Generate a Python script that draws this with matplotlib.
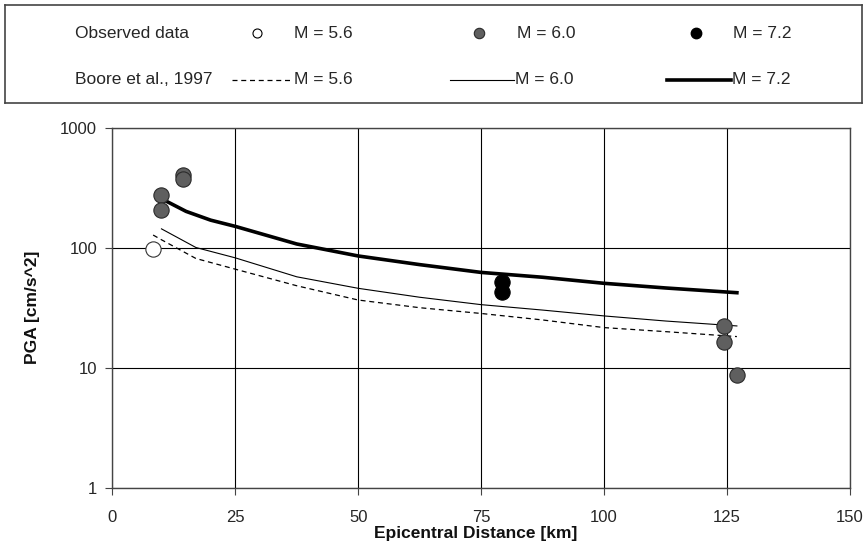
import matplotlib
matplotlib.use("Agg")
import matplotlib.pyplot as plt

plt.rcParams['font.family'] = ['Liberation Sans', 'DejaVu Sans']

# Boore et al. (1997) attenuation curves, PGA [cm/s^2] vs epicentral distance [km]
boore_56_dist = [8.3, 10, 17, 25, 37.5, 50, 62.5, 75, 87.5, 100, 112.5, 127]
boore_56_pga = [127, 116, 81, 66, 48, 36.5, 31.5, 28.2, 24.9, 21.5, 19.9, 18.1]

boore_60_dist = [10, 17, 25, 37.5, 50, 62.5, 75, 87.5, 100, 112.5, 127]
boore_60_pga = [143, 100, 82, 57, 45.7, 38.5, 33.4, 30.1, 26.9, 24.4, 22.2]

boore_72_dist = [10, 15, 20, 25, 37.5, 50, 62.5, 75, 87.5, 100, 112.5, 127]
boore_72_pga = [255, 200, 169, 150, 107, 85, 72, 62, 56.5, 50.3, 46, 42]

# observed peak ground accelerations
obs_56_dist = [8.3]
obs_56_pga = [98]
obs_60_dist = [10, 10, 14.3, 14.3, 124.3, 124.3, 127]
obs_60_pga = [272, 207, 400, 375, 22.3, 16.2, 8.7]
obs_72_dist = [79.2, 79.2]
obs_72_pga = [52, 42.5]

x_ticks = [0, 25, 50, 75, 100, 125, 150]
y_ticks = [1, 10, 100, 1000]

W, H = 866, 544
fig = plt.figure(figsize=(W / 100, H / 100), dpi=100)
ax = fig.add_axes([112.3 / W, 1 - 487.5 / H, 737.7 / W, 360 / H])

grey = '#5f5f5f'
txt = '#262626'
ax.plot(boore_56_dist, boore_56_pga, color='black', lw=0.9, ls=(0, (4, 3)), zorder=3)
ax.plot(boore_60_dist, boore_60_pga, color='black', lw=0.8, zorder=3)
ax.plot(boore_72_dist, boore_72_pga, color='black', lw=2.6, zorder=3)

ax.plot(obs_56_dist, obs_56_pga, 'o', ms=11, mfc='white', mec='#333333', mew=0.8, zorder=4)
ax.plot(obs_60_dist, obs_60_pga, 'o', ms=11, mfc=grey, mec='#2a2a2a', mew=0.8, zorder=4)
ax.plot(obs_72_dist, obs_72_pga, 'o', ms=11, mfc='black', mec='black', mew=0.8, zorder=4)

ax.set_yscale('log')
ax.set_xlim(0, 150)
ax.set_ylim(1, 1000)
ax.set_xticks(x_ticks)
ax.set_xticklabels([str(t) for t in x_ticks])
ax.set_yticks(y_ticks)
ax.set_yticklabels([str(t) for t in y_ticks])
ax.yaxis.set_minor_locator(matplotlib.ticker.NullLocator())
ax.grid(True, color='black', lw=0.8)
ax.set_axisbelow(True)
for s in ax.spines.values():
    s.set_color('#444444')
    s.set_linewidth(1.0)
ax.tick_params(axis='x', length=5, pad=11, labelsize=12, color='#444444', labelcolor=txt)
ax.tick_params(axis='y', length=5, pad=6, labelsize=12, color='#444444', labelcolor=txt)

fig.text(476 / W, 1 - 533.5 / H, 'Epicentral Distance [km]', ha='center', va='center',
         fontsize=12.5, fontweight='bold', color='#111111')
fig.text(32.5 / W, 1 - 307.5 / H, 'PGA [cm/s^2]', ha='center', va='center',
         rotation=90, fontsize=12.5, fontweight='bold', color='#111111')

# legend box drawn in pixel coordinates
leg = fig.add_axes([5 / W, 1 - 103 / H, 857 / W, 98 / H])
leg.set_xlim(5, 862)
leg.set_ylim(103, 5)
leg.set_xticks([])
leg.set_yticks([])
for s in leg.spines.values():
    s.set_color('#444444')
    s.set_linewidth(1.2)

r1, r2 = 33, 80
fs = 12.5
leg.text(75, r1, 'Observed data', va='center', fontsize=fs, color=txt)
leg.plot([257], [r1], 'o', ms=6.5, mfc='white', mec='black', mew=0.8)
leg.text(294, r1, 'M = 5.6', va='center', fontsize=fs, color=txt)
leg.plot([479], [r1], 'o', ms=7.5, mfc=grey, mec='#2a2a2a', mew=0.8)
leg.text(517, r1, 'M = 6.0', va='center', fontsize=fs, color=txt)
leg.plot([696], [r1], 'o', ms=7.5, mfc='black', mec='black')
leg.text(733, r1, 'M = 7.2', va='center', fontsize=fs, color=txt)

leg.text(75, r2, 'Boore et al., 1997', va='center', fontsize=fs, color=txt)
leg.plot([232, 293], [r2, r2], color='black', lw=0.9, ls=(0, (4, 3)))
leg.text(294, r2, 'M = 5.6', va='center', fontsize=fs, color=txt)
leg.plot([450, 514], [r2, r2], color='black', lw=0.8)
leg.text(515, r2, 'M = 6.0', va='center', fontsize=fs, color=txt)
leg.plot([667, 731], [r2, r2], color='black', lw=2.6)
leg.text(732, r2, 'M = 7.2', va='center', fontsize=fs, color=txt)

fig.savefig('out.png', dpi=100)
